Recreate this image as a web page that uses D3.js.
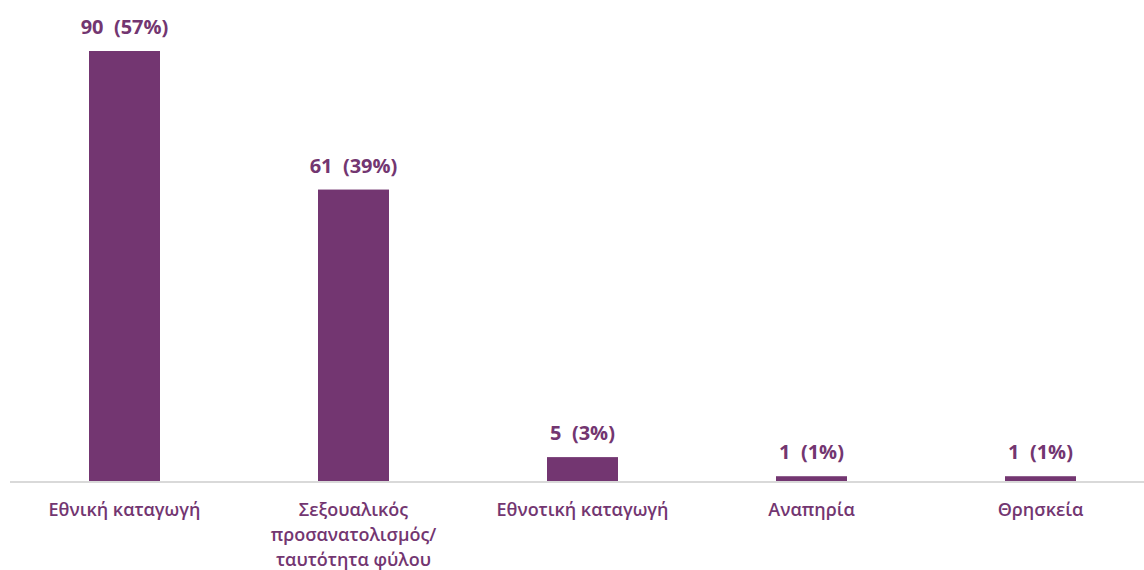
<!DOCTYPE html>
<html>
<head>
<meta charset="utf-8">
<script src="https://cdn.jsdelivr.net/npm/d3@7"></script>
<style>
  body { margin: 0; background: #fff; }
  svg { display: block; }
</style>
</head>
<body>
<svg id="chart"></svg>
<script>
// DATA
const categories = ["Εθνική καταγωγή", "Σεξουαλικός προσανατολισμός/ ταυτότητα φύλου", "Εθνοτική καταγωγή", "Αναπηρία", "Θρησκεία"];
const categoryLines = [
    ["Εθνική καταγωγή"],
    ["Σεξουαλικός", "προσανατολισμός/", "ταυτότητα φύλου"],
    ["Εθνοτική καταγωγή"],
    ["Αναπηρία"],
    ["Θρησκεία"]
];
const counts = [90, 61, 5, 1, 1];
const percents = ["57%", "39%", "3%", "1%", "1%"];

const W = 1144, H = 570;
const baseY = 481;
const purple = "#733671";

const svg = d3.select("#chart").attr("width", W).attr("height", H);

const x = d3.scaleBand()
    .domain(categories)
    .range([10, 1155])
    .paddingInner(0.69)
    .paddingOuter(0.345);

const y = d3.scaleLinear().domain([0, 90]).range([baseY, 51]);

// bars
svg.selectAll("rect.bar")
    .data(categories)
    .enter()
    .append("rect")
    .attr("class", "bar")
    .attr("x", d => x(d))
    .attr("y", (d, i) => y(counts[i]))
    .attr("width", x.bandwidth())
    .attr("height", (d, i) => baseY - y(counts[i]))
    .attr("fill", purple);

// baseline
svg.append("line")
    .attr("x1", 10).attr("x2", W)
    .attr("y1", baseY + 1).attr("y2", baseY + 1)
    .attr("stroke", "#d9d9d9")
    .attr("stroke-width", 2);

// value labels
svg.selectAll("text.value")
    .data(categories)
    .enter()
    .append("text")
    .attr("class", "value")
    .attr("x", d => x(d) + x.bandwidth() / 2)
    .attr("y", (d, i) => y(counts[i]) - 17)
    .attr("text-anchor", "middle")
    .attr("font-family", "'Open Sans', 'Noto Sans', sans-serif")
    .attr("font-weight", "bold")
    .attr("font-size", "20px")
    .attr("fill", purple)
    .attr("xml:space", "preserve")
    .style("white-space", "pre")
    .text((d, i) => counts[i] + "  (" + percents[i] + ")");

// category labels
const catText = svg.selectAll("text.cat")
    .data(categories)
    .enter()
    .append("text")
    .attr("class", "cat")
    .attr("text-anchor", "middle")
    .attr("font-family", "'Open Sans', 'Noto Sans', sans-serif")
    .attr("font-weight", "600")
    .attr("font-size", "18px")
    .attr("fill", purple);

catText.each(function(d, i) {
    const t = d3.select(this);
    categoryLines[i].forEach((line, j) => {
        t.append("tspan")
            .attr("x", x(d) + x.bandwidth() / 2)
            .attr("y", 516 + j * 25)
            .text(line);
    });
});
</script>
</body>
</html>
